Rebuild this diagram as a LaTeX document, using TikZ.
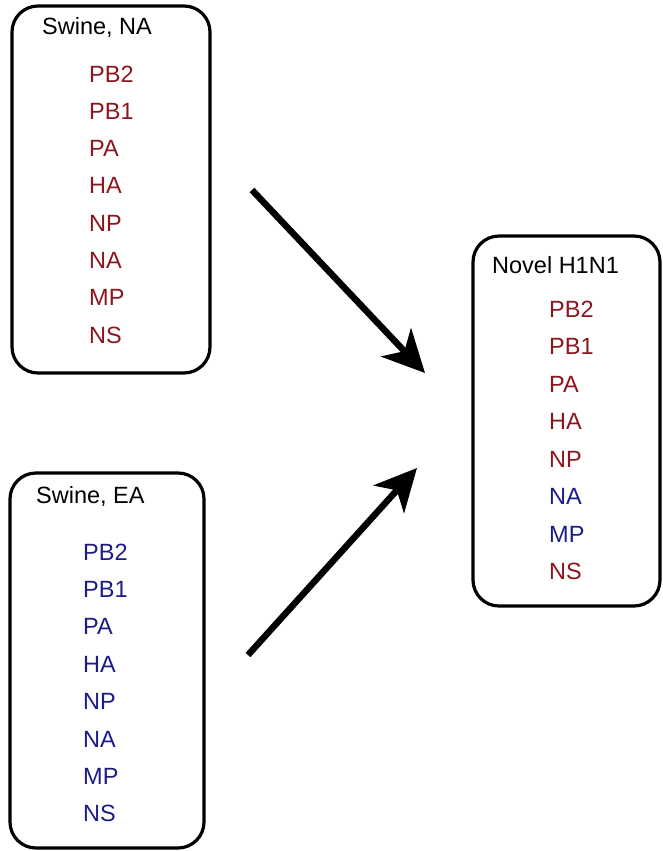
\documentclass[tikz,border=0pt]{standalone}
\usepackage{fontspec}
\setmainfont{Liberation Sans}
\usetikzlibrary{arrows.meta}
\definecolor{genered}{RGB}{140,22,30}
\definecolor{geneblue}{RGB}{28,28,135}
\tikzset{
  segbox/.style={draw=black, line width=3.2pt, rounded corners=26pt, inner sep=0pt},
  title/.style={anchor=base west, inner sep=0pt, font=\fontsize{23.5}{27}\selectfont, text=black},
  rgene/.style={anchor=base west, inner sep=0pt, font=\fontsize{23.5}{27}\selectfont, text=genered},
  bgene/.style={anchor=base west, inner sep=0pt, font=\fontsize{23.5}{27}\selectfont, text=geneblue},
  bigarrow/.style={line width=6.5pt, -{Stealth[length=42pt, width=41pt, inset=12pt]}}
}
\begin{document}
\begin{tikzpicture}[x=1pt, y=-1pt]
\useasboundingbox (0,0) rectangle (662,851);
% boxes
\node[segbox, minimum width=198pt, minimum height=367pt] (boxNA) at (111,189.5) {};
\node[segbox, minimum width=194pt, minimum height=375pt] (boxEA) at (107,660.5) {};
\node[segbox, minimum width=187pt, minimum height=370pt] (boxNV) at (566.5,421) {};
% titles
\node[title] (tNA) at (42,35) {Swine, NA};
\node[title] (tEA) at (36,503) {Swine, EA};
\node[title] (tNV) at (492,273) {Novel H1N1};
% Swine NA genes
\foreach \g [count=\i from 0] in {PB2,PB1,PA,HA,NP,NA,MP,NS}
  \node[rgene] (na\i) at (89,82+37.3*\i) {\g};
% Swine EA genes
\foreach \g [count=\i from 0] in {PB2,PB1,PA,HA,NP,NA,MP,NS}
  \node[bgene] (ea\i) at (83,560+37.4*\i) {\g};
% Novel genes
\node[rgene] (nv0) at (549,317) {PB2};
\node[rgene] (nv1) at (549,354.5) {PB1};
\node[rgene] (nv2) at (549,392) {PA};
\node[rgene] (nv3) at (549,429.5) {HA};
\node[rgene] (nv4) at (549,467) {NP};
\node[bgene] (nv5) at (549,504.5) {NA};
\node[bgene] (nv6) at (549,542) {MP};
\node[rgene] (nv7) at (549,579.5) {NS};
% arrows
\coordinate (s1) at (252,190);
\coordinate (e1) at (425,373);
\coordinate (s2) at (248,655);
\coordinate (e2) at (417,468);
\draw[bigarrow] (s1) -- (e1);
\draw[bigarrow] (s2) -- (e2);
\end{tikzpicture}
\end{document}
